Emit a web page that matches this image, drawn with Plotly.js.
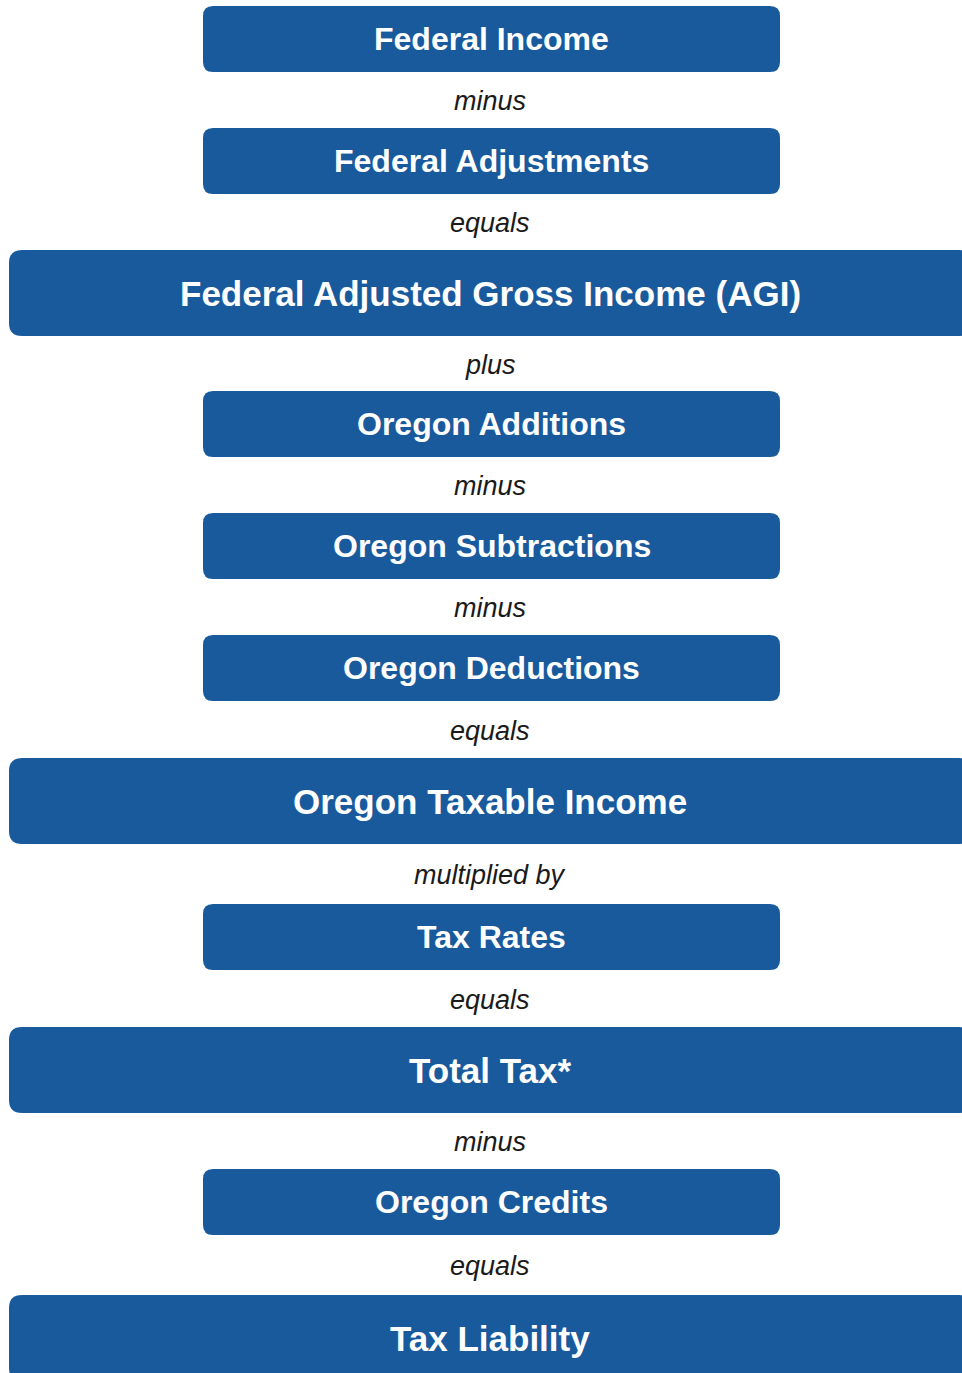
<!DOCTYPE html>
<html>
<head>
<meta charset="utf-8">
<script src="https://cdn.plot.ly/plotly-3.0.1.min.js"></script>
<style>html,body{margin:0;padding:0;background:#fff;overflow:hidden}#chart{width:962px;height:1373px}</style>
</head>
<body>
<div id="chart"></div>
<script>
// Flow steps (top to bottom)
const stepLabels = [
  "Federal Income",
  "Federal Adjustments",
  "Federal Adjusted Gross Income (AGI)",
  "Oregon Additions",
  "Oregon Subtractions",
  "Oregon Deductions",
  "Oregon Taxable Income",
  "Tax Rates",
  "Total Tax*",
  "Oregon Credits",
  "Tax Liability"
];
// Whether a step is a result (wide box) or an input (narrow box)
const stepIsResult = [false, false, true, false, false, false, true, false, true, false, true];
// Operator words between consecutive steps
const connectorWords = ["minus", "equals", "plus", "minus", "minus", "equals", "multiplied by", "equals", "minus", "equals"];

// ---- layout (geometry, not data) ----
const W = 962, H = 1373;
const BLUE = "#195a9d";
const narrow = {x0: 203, x1: 780, h: 66, r: 10, font: 32};
const wide = {x0: 9, x1: 972, h: 86, r: 13, font: 35};
const top0 = 6;
const gaps = [56, 56, 55, 56, 56, 57, 60, 57, 56, 60];
const FONT = "Liberation Sans, Arial, sans-serif";

function roundRect(x0, y0, x1, y1, r) {
  return `M${x0 + r},${y0} L${x1 - r},${y0} Q${x1},${y0} ${x1},${y0 + r} ` +
         `L${x1},${y1 - r} Q${x1},${y1} ${x1 - r},${y1} L${x0 + r},${y1} ` +
         `Q${x0},${y1} ${x0},${y1 - r} L${x0},${y0 + r} Q${x0},${y0} ${x0 + r},${y0} Z`;
}

const shapes = [], annotations = [];
let y = top0;
stepLabels.forEach((label, i) => {
  const g = stepIsResult[i] ? wide : narrow;
  const y0 = y, y1 = y + g.h;
  shapes.push({type: "path", xref: "x", yref: "y", path: roundRect(g.x0, y0, g.x1, y1, g.r),
               fillcolor: BLUE, line: {width: 0}, layer: "below"});
  const cx = stepIsResult[i] ? 490 : (g.x0 + g.x1) / 2;
  annotations.push({x: cx, y: (y0 + y1) / 2, xref: "x", yref: "y", text: "<b>" + label + "</b>",
                    showarrow: false, xanchor: "center", yanchor: "middle",
                    font: {family: FONT, size: g.font, color: "#ffffff"}});
  if (i < connectorWords.length) {
    annotations.push({x: 490, y: y1 + gaps[i] / 2 + 1, xref: "x", yref: "y", text: "<i>" + connectorWords[i] + "</i>",
                      showarrow: false, xanchor: "center", yanchor: "middle",
                      font: {family: FONT, size: 27, color: "#1a1a1a"}});
    y = y1 + gaps[i];
  }
});

const layout = {
  width: W, height: H,
  margin: {l: 0, r: 0, t: 0, b: 0},
  paper_bgcolor: "#ffffff", plot_bgcolor: "#ffffff",
  showlegend: false,
  xaxis: {range: [0, W], visible: false, fixedrange: true},
  yaxis: {range: [H, 0], visible: false, fixedrange: true},
  shapes: shapes,
  annotations: annotations
};
Plotly.newPlot("chart", [{x: [], y: [], type: "scatter", mode: "markers", hoverinfo: "skip"}], layout, {staticPlot: true, displayModeBar: false});
</script>
</body>
</html>
